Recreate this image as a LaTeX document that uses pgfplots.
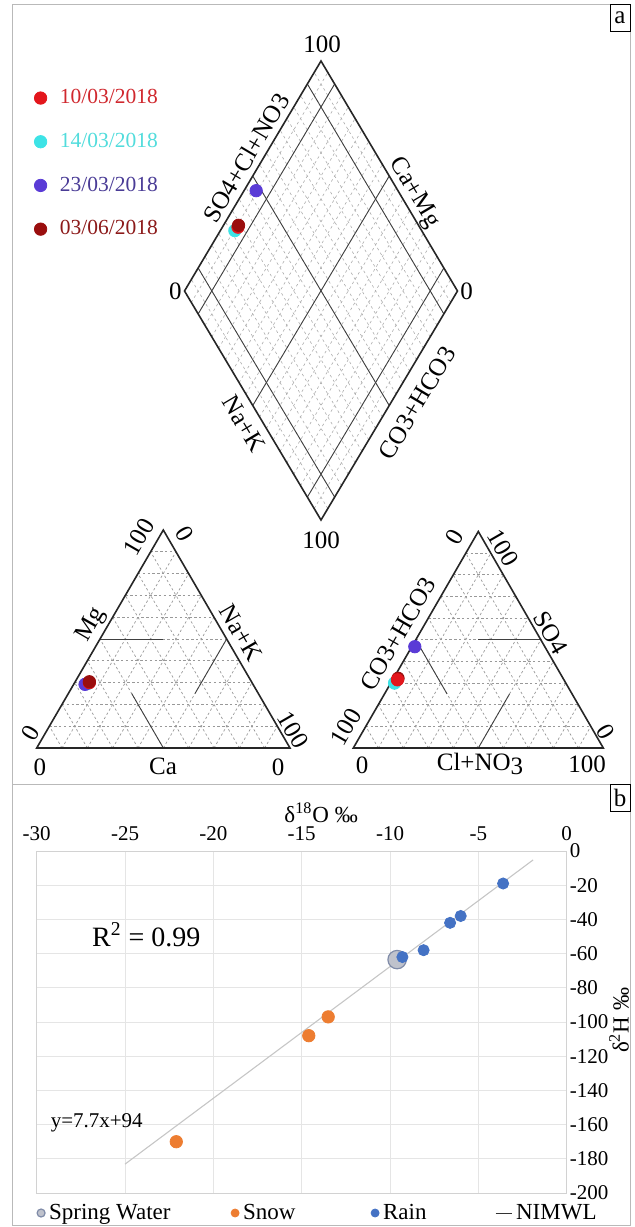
\documentclass[border=0pt]{standalone}
\usepackage{fontspec}
\setmainfont{Liberation Serif}
\usepackage{pgfplots}
\usepackage{pgfplotstable}
\pgfplotsset{compat=1.18}
\usetikzlibrary{calc}
\newcommand\fs[1]{\fontsize{#1pt}{#1pt}\selectfont}

\definecolor{cRed}{HTML}{E3161C}
\definecolor{cCyan}{HTML}{3DE3E6}
\definecolor{cPurple}{HTML}{5A3BD6}
\definecolor{cDark}{HTML}{9A0E0E}
\definecolor{tRed}{HTML}{D0282E}
\definecolor{tCyan}{HTML}{52DCDC}
\definecolor{tPurple}{HTML}{4A3C96}
\definecolor{tDark}{HTML}{8C1A1A}
\definecolor{snow}{HTML}{ED7D31}
\definecolor{rain}{HTML}{4472C4}
\definecolor{springF}{HTML}{BFC2CC}
\definecolor{springD}{HTML}{7F8BA8}

% Piper percentages: rows 0=10/03, 1=14/03, 2=23/03, 3=03/06 (2018)
\pgfplotstableread{
Ca   Mg   Na  HCO3 SO4  Cl
64.2 30.0 5.8 66.6 31.5 1.9
65.0 29.6 5.4 68.5 30.0 1.5
66.3 29.2 4.5 52.0 46.8 1.2
64.0 30.4 5.6 66.0 32.2 1.8
}\piper

\pgfplotstableread{
x y
-9.6 -63.5
}\spring
\pgfplotstableread{
x y
-22.1 -170
-14.6 -108
-13.5 -97
}\snowtab
\pgfplotstableread{
x y
-3.6 -19
-6.0 -38
-6.6 -42
-8.1 -58
-9.3 -62
}\raintab
\pgfplotstableread{
x y
-25 -183.1
-1.9 -5.2
}\nimwl

\pgfplotsset{
  table/cation/.style={x expr={(36.7*\thisrow{Ca}+290*\thisrow{Na}+163.3*\thisrow{Mg})/100}, y expr={748-2.18*\thisrow{Mg}}},
  table/anion/.style={x expr={(353.3*\thisrow{HCO3}+603.3*\thisrow{Cl}+478.3*\thisrow{SO4})/100}, y expr={748-2.165*\thisrow{SO4}}},
  table/diamond/.style={x expr={321+1.365*(\thisrow{SO4}+\thisrow{Cl})-1.365*(\thisrow{Ca}+\thisrow{Mg})}, y expr={520-2.295*(\thisrow{SO4}+\thisrow{Cl}+\thisrow{Ca}+\thisrow{Mg})}},
  select/.style={x filter/.code={\ifnum\coordindex=#1\relax\else\def\pgfmathresult{}\fi}},
  piperpt/.style={only marks, mark=*, mark size=3.1pt, forget plot},
}

\tikzset{
  dgrid/.style={draw=gray!80, line width=0.35pt, dash pattern=on 1.2pt off 1.2pt},
  ddgrid/.style={draw=gray!65, line width=0.3pt, dash pattern=on 1.3pt off 1.5pt},
  sgrid/.style={draw=black!75, line width=0.45pt},
  edge/.style={draw=black!85, line width=0.8pt, line join=miter},
  lab/.style={font=\fs{12.5}, inner sep=0pt},
}

\begin{document}
\begin{tikzpicture}
\begin{scope}[x=0.5pt,y=-0.5pt]
  % frames
  \draw[gray!55, line width=0.5pt] (12.5,4) rectangle (630,1225);
  \draw[gray!55, line width=0.5pt] (12.5,784) -- (630,784);
  \draw[black, line width=0.5pt, fill=white] (610,4) rectangle (630,31);
  \node[font=\fs{12.5}] at (620,17.5) {a};
  \draw[black, line width=0.5pt, fill=white] (610,784) rectangle (630,811);
  \node[font=\fs{12.5}] at (620,797.5) {b};

  % ---------- diamond ----------
  \coordinate (DB) at (321,520);
  \coordinate (DR) at (457.5,291);
  \coordinate (DL) at (184.5,291);
  \coordinate (DT) at (321,61);
  \foreach \i in {1,...,19}{
    \pgfmathsetmacro\f{\i/20}
    \draw[ddgrid] ($(DB)!\f!(DR)$) -- ($(DL)!\f!(DT)$);
    \draw[ddgrid] ($(DB)!\f!(DL)$) -- ($(DR)!\f!(DT)$);
  }
  \foreach \f in {0.1,0.5,0.9}{
    \draw[sgrid] ($(DB)!\f!(DR)$) -- ($(DL)!\f!(DT)$);
    \draw[sgrid] ($(DB)!\f!(DL)$) -- ($(DR)!\f!(DT)$);
  }
  \draw[edge] (DB) -- (DR) -- (DT) -- (DL) -- cycle;

  % ---------- cation triangle ----------
  \coordinate (CA) at (36.7,748);
  \coordinate (NA) at (290,748);
  \coordinate (MG) at (163.3,530);
  \foreach \i in {1,...,9}{
    \pgfmathsetmacro\f{\i/10}
    \draw[dgrid] ($(CA)!\f!(MG)$) -- ($(NA)!\f!(MG)$);
    \draw[dgrid] ($(NA)!\f!(CA)$) -- ($(MG)!\f!(CA)$);
    \draw[dgrid] ($(CA)!\f!(NA)$) -- ($(MG)!\f!(NA)$);
  }
  \draw[sgrid] (100,639) -- (163.3,639);
  \draw[sgrid] (163.35,748) -- (131.7,693.5);
  \draw[sgrid] (226.65,639) -- (195,693.5);
  \draw[edge] (CA) -- (NA) -- (MG) -- cycle;

  % ---------- anion triangle ----------
  \coordinate (HC) at (353.3,748);
  \coordinate (CL) at (603.3,748);
  \coordinate (SO) at (478.3,531.5);
  \foreach \i in {1,...,9}{
    \pgfmathsetmacro\f{\i/10}
    \draw[dgrid] ($(HC)!\f!(SO)$) -- ($(CL)!\f!(SO)$);
    \draw[dgrid] ($(CL)!\f!(HC)$) -- ($(SO)!\f!(HC)$);
    \draw[dgrid] ($(HC)!\f!(CL)$) -- ($(SO)!\f!(CL)$);
  }
  \draw[sgrid] (478.3,639.75) -- (540.8,639.75);
  \draw[sgrid] (415.8,639.75) -- (447.05,693.9);
  \draw[sgrid] (478.3,748) -- (509.55,693.9);
  \draw[edge] (HC) -- (CL) -- (SO) -- cycle;

  % ---------- labels ----------
  \node[lab] at (322,44) {100};
  \node[lab, anchor=east] at (182,291) {0};
  \node[lab, anchor=west] at (460,291) {0};
  \node[lab] at (321,540) {100};
  \node[lab, rotate=59.2] at (246,158) {SO4+Cl+NO3};
  \node[lab, rotate=-59.2] at (414,193) {Ca+Mg};
  \node[lab, rotate=-59.2] at (244,424) {Na+K};
  \node[lab, rotate=59.2] at (417,403) {CO3+HCO3};

  \node[lab, rotate=60] at (91,625) {Mg};
  \node[lab, rotate=60] at (139,537) {100};
  \node[lab, rotate=-60] at (185,534) {0};
  \node[lab, rotate=-60] at (241,633) {Na+K};
  \node[lab, rotate=60] at (31,733) {0};
  \node[lab, rotate=-60] at (293,730) {100};
  \node[lab] at (40,767) {0};
  \node[lab] at (163,766) {Ca};
  \node[lab] at (278,767) {0};

  \node[lab, rotate=60] at (455,537) {0};
  \node[lab, rotate=-60] at (503,548) {100};
  \node[lab, rotate=60] at (398,634) {CO3+HCO3};
  \node[lab, rotate=-60] at (551,633) {SO4};
  \node[lab, rotate=60] at (346,727) {100};
  \node[lab, rotate=-60] at (606,732) {0};
  \node[lab] at (362,765) {0};
  \node[lab] at (480,764) {Cl+NO\raisebox{-0.35ex}{3}};
  \node[lab] at (587,764) {100};
\end{scope}

% ================= panel a points =================
\begin{axis}[at={(0pt,0pt)}, anchor=north west, scale only axis,
  width=317pt, height=390pt, xmin=0, xmax=634, ymin=0, ymax=780,
  y dir=reverse, hide axis, clip=false,
  legend cell align=left,
  legend style={at={(axis cs:34,85)}, anchor=north west, draw=none, fill=none,
    inner sep=0pt, row sep=9.2pt, font=\fs{10.75}},
  legend image code/.code={\draw[#1] plot coordinates {(0pt,0pt)};},
]
\addlegendimage{only marks, mark=*, mark size=3.1pt, cRed}
\addlegendentry{\hspace{4.5pt}\textcolor{tRed}{10/03/2018}}
\addlegendimage{only marks, mark=*, mark size=3.1pt, cCyan}
\addlegendentry{\hspace{4.5pt}\textcolor{tCyan}{14/03/2018}}
\addlegendimage{only marks, mark=*, mark size=3.1pt, cPurple}
\addlegendentry{\hspace{4.5pt}\textcolor{tPurple}{23/03/2018}}
\addlegendimage{only marks, mark=*, mark size=3.1pt, cDark}
\addlegendentry{\hspace{4.5pt}\textcolor{tDark}{03/06/2018}}

\addplot[piperpt, cCyan, select=1] table[diamond] {\piper};
\addplot[piperpt, cPurple, select=2] table[diamond] {\piper};
\addplot[piperpt, cRed, select=0] table[diamond] {\piper};
\addplot[piperpt, cDark, select=3] table[diamond] {\piper};

\addplot[piperpt, cCyan, select=1] table[cation] {\piper};
\addplot[piperpt, cPurple, select=2] table[cation] {\piper};
\addplot[piperpt, cRed, select=0] table[cation] {\piper};
\addplot[piperpt, cDark, select=3] table[cation] {\piper};

\addplot[piperpt, cCyan, select=1] table[anion] {\piper};
\addplot[piperpt, cPurple, select=2] table[anion] {\piper};
\addplot[piperpt, cDark, select=3] table[anion] {\piper};
\addplot[piperpt, cRed, select=0] table[anion] {\piper};
\end{axis}

% ================= panel b =================
\begin{axis}[at={(18.35pt,-425.5pt)}, anchor=north west, scale only axis,
  width=265pt, height=171pt,
  xmin=-30, xmax=0, ymin=-200, ymax=0, clip=false,
  xtick={-30,-25,...,0}, xticklabels={-30,-25,-20,-15,-10,-5,0},
  ytick={-200,-180,...,0},
  yticklabels={-200,-180,-160,-140,-120,-100,-80,-60,-40,-20,0},
  xticklabel pos=upper, yticklabel pos=upper,
  major tick length=0pt,
  grid=major, grid style={draw=gray!20, line width=0.45pt},
  axis line style={draw=gray!35, line width=0.45pt},
  tick label style={font=\fs{10.5}},
  xticklabel style={yshift=1.5pt},
  yticklabel style={xshift=-2pt},
  legend columns=4,
  legend style={at={(axis cs:-30,-200)}, anchor=west, yshift=-10pt, xshift=0pt,
    draw=none, fill=none, inner sep=0pt, font=\fs{11.5}},
  legend image code/.code={\draw[#1, mark size=2pt] plot coordinates {(0pt,0pt)};},
]
\addplot[forget plot, gray!45, line width=0.55pt] table {\nimwl};
\addplot[only marks, mark=*, mark size=4.6pt,
  mark options={fill=springF, draw=springD, line width=0.6pt}] table {\spring};
\addlegendentry{\makebox[89pt][l]{Spring Water}}
\addplot[only marks, mark=*, mark size=3.1pt, snow] table {\snowtab};
\addlegendentry{\makebox[62pt][l]{Snow}}
\addplot[only marks, mark=*, mark size=2.8pt, rain] table {\raintab};
\addlegendentry{\makebox[54pt][l]{Rain}}
\addlegendimage{legend image code/.code={\draw[black!80, line width=0.5pt] (0pt,0pt) -- (8pt,0pt);}}
\addlegendentry{NIMWL}

\node[font=\fs{11.5}] at (axis cs:-13.9,22.5) {δ\textsuperscript{18}O ‰};
\node[font=\fs{11.5}, rotate=90] at (axis cs:2.96,-99) {δ\textsuperscript{2}H ‰};
\node[font=\fs{14}] at (axis cs:-23.8,-49) {R\textsuperscript{2} = 0.99};
\node[font=\fs{10.5}] at (axis cs:-26.6,-159) {y=7.7x+94};
\end{axis}

\pgfresetboundingbox
\path (0pt,0pt) rectangle (317pt,-613.5pt);
\end{tikzpicture}
\end{document}
